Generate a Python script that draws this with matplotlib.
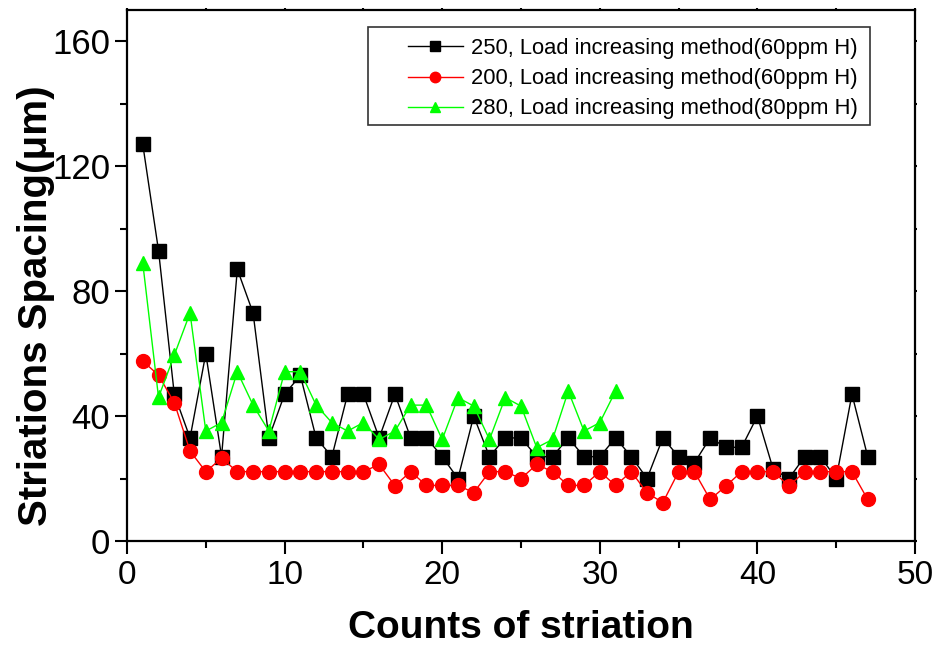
import matplotlib
matplotlib.use("Agg")
import matplotlib.pyplot as plt
from matplotlib.ticker import MultipleLocator
from matplotlib.patches import Rectangle

plt.rcParams['font.family'] = ['Liberation Sans', 'DejaVu Sans']

x_black = list(range(1, 48))
y_black = [127, 93, 47, 33, 60, 27, 87, 73, 33, 47,
           53, 33, 27, 47, 47, 33, 47, 33, 33, 27,
           20, 40, 27, 33, 33, 27, 27, 33, 27, 27,
           33, 27, 20, 33, 27, 25, 33, 30, 30, 40,
           23, 20, 27, 27, 20, 47, 27]

x_red = list(range(1, 48))
y_red = [57.6, 53.1, 44.3, 28.8, 22.2, 26.5, 22.2, 22.2, 22.2, 22.2,
         22.2, 22.2, 22.2, 22.2, 22.2, 24.5, 17.7, 22.2, 17.8, 17.8,
         17.8, 15.5, 22.2, 22.2, 20.0, 24.5, 22.2, 17.8, 17.8, 22.2,
         17.8, 22.2, 15.4, 12.3, 22.2, 22.2, 13.3, 17.6, 22.2, 22.2,
         22.2, 17.6, 22.2, 22.2, 22.2, 22.2, 13.3]

x_green = list(range(1, 32))
y_green = [89, 46, 59.5, 73, 35.2, 37.9, 54.2, 43.5, 35.2, 54.2,
           54.2, 43.5, 37.9, 35.2, 37.9, 32.5, 35.2, 43.5, 43.5, 32.5,
           45.9, 43.2, 32.5, 45.9, 43.2, 29.9, 32.5, 48, 35.2, 37.9,
           48]

labels = ["250, Load increasing method(60ppm H)",
          "200, Load increasing method(60ppm H)",
          "280, Load increasing method(80ppm H)"]

fig = plt.figure(figsize=(9.39, 6.48), dpi=100)
ax = fig.add_axes([127/939, 1-541/648, (915-127)/939, (541-10)/648])

ax.plot(x_black, y_black, color='black', lw=1.0, marker='s', ms=9.5,
        mec='black', mfc='black', label=labels[0])
ax.plot(x_red, y_red, color='red', lw=1.0, marker='o', ms=10,
        mec='red', mfc='red', label=labels[1])
ax.plot(x_green, y_green, color='#00ff00', lw=1.0, marker='^', ms=10.5,
        mec='#00ff00', mfc='#00ff00', label=labels[2])

ax.set_xlim(0, 50)
ax.set_ylim(0, 170)
ax.xaxis.set_major_locator(MultipleLocator(10))
ax.xaxis.set_minor_locator(MultipleLocator(5))
ax.yaxis.set_major_locator(MultipleLocator(40))
ax.yaxis.set_minor_locator(MultipleLocator(20))

for s in ax.spines.values():
    s.set_linewidth(1.6)

ax.tick_params(which='major', direction='out', length=9, width=1.5,
               top=True, right=True)
ax.tick_params(which='minor', direction='out', length=5, width=1.5,
               top=True, right=True)
ax.tick_params(axis='x', which='major', labelsize=24, pad=5)
ax.tick_params(axis='y', which='major', labelsize=25, pad=3)
ax.tick_params(which='both', axis='both', labeltop=False, labelright=False)
for t in ax.xaxis.get_major_ticks() + ax.xaxis.get_minor_ticks():
    t.tick2line.set_markersize(1.5)
for t in ax.yaxis.get_major_ticks() + ax.yaxis.get_minor_ticks():
    t.tick2line.set_markersize(1.5)

ax.set_xlabel("Counts of striation", fontsize=28, fontweight='bold', labelpad=13)
ax.set_ylabel("Striations Spacing(μm)", fontsize=29, fontweight='bold')
ax.yaxis.set_label_coords((55 - 127) / 788, (541 - 306) / 531)

leg = ax.legend(loc='upper left', bbox_to_anchor=((408 - 127) / 788, (541 - 38) / 531),
                fontsize=15.8, frameon=False, handlelength=2.5, borderpad=0,
                borderaxespad=0, labelspacing=0.42, handletextpad=0.37,
                markerscale=0.75)
ax.add_patch(Rectangle(((368 - 127) / 788, (541 - 125) / 531), 502 / 788, 98 / 531,
                       transform=ax.transAxes, fill=False, edgecolor='#333333',
                       linewidth=1.2, zorder=5))

fig.savefig("out.png", dpi=100)
